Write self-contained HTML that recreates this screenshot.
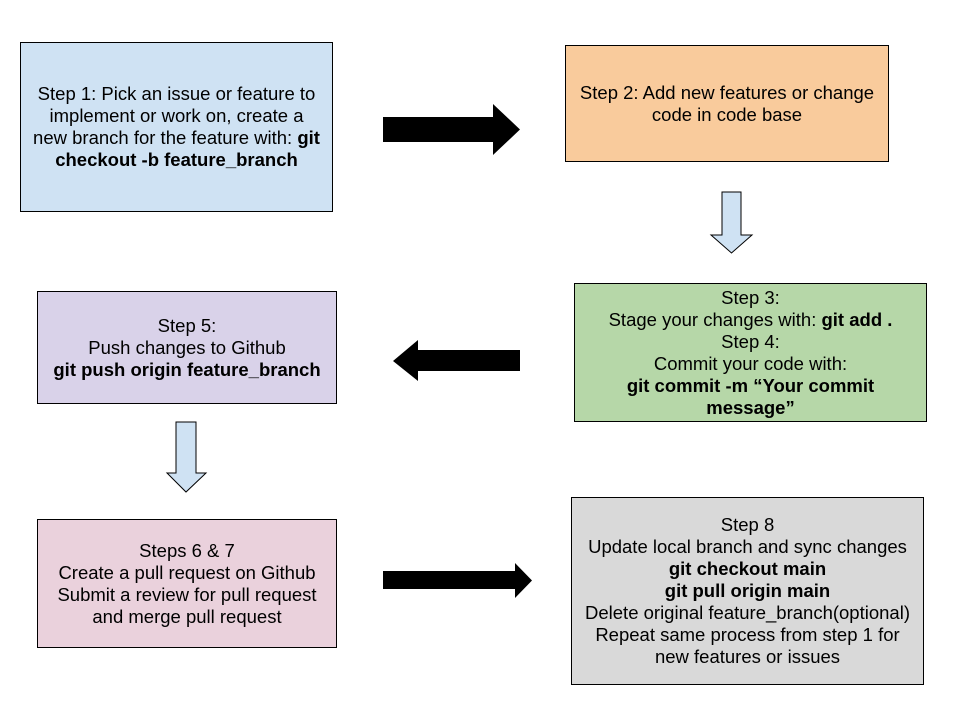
<!DOCTYPE html>
<html><head><meta charset="utf-8"><style>
body{margin:0;width:960px;height:720px;background:#fff;position:relative;overflow:hidden;font-family:"Liberation Sans",Arial,sans-serif;}
.b{position:absolute;box-sizing:border-box;border:1px solid #000;display:flex;align-items:center;justify-content:center;text-align:center;font-size:18.5px;line-height:22px;color:#000;}
.b>div{width:100%}
b{font-weight:bold}
svg{position:absolute;left:0;top:0}
</style></head><body>
<svg width="960" height="720">
<polygon points="383,117 493,117 493,104 520,129.5 493,155 493,142 383,142" fill="#000"/>
<polygon points="722,192 741,192 741,235 752,235 731.5,253 711,235 722,235" fill="#cfe2f3" stroke="#000" stroke-width="1"/>
<polygon points="520,350 418,350 418,340 393,361 418,381 418,371 520,371" fill="#000"/>
<polygon points="176,422 196,422 196,473 206,473 186,492 167,473 176,473" fill="#cfe2f3" stroke="#000" stroke-width="1"/>
<polygon points="383,571 515,571 515,563 532,580.5 515,598 515,589 383,589" fill="#000"/>
</svg>
<div class="b" style="left:20px;top:42px;width:313px;height:170px;background:#cfe2f3;white-space:nowrap;"><div>Step 1: Pick an issue or feature to<br>implement or work on, create a<br>new branch for the feature with: <b>git</b><br><b>checkout -b feature_branch</b></div></div>
<div class="b" style="left:565px;top:45px;width:324px;height:117px;background:#f9cb9c;padding:0 8px;"><div>Step 2: Add new features or change code in code base</div></div>
<div class="b" style="left:574px;top:283px;width:353px;height:139px;background:#b6d7a8;padding:0 20px;"><div>Step 3:<br>Stage your changes with: <b>git add .</b><br>Step 4:<br>Commit your code with:<br><b>git commit -m “Your commit message”</b></div></div>
<div class="b" style="left:37px;top:291px;width:300px;height:113px;background:#d9d2e9;"><div>Step 5:<br>Push changes to Github<br><b>git push origin feature_branch</b></div></div>
<div class="b" style="left:37px;top:519px;width:300px;height:129px;background:#ead1dc;"><div>Steps 6 &amp; 7<br>Create a pull request on Github<br>Submit a review for pull request<br>and merge pull request</div></div>
<div class="b" style="left:571px;top:497px;width:353px;height:188px;background:#d9d9d9;"><div>Step 8<br>Update local branch and sync changes<br><b>git checkout main</b><br><b>git pull origin main</b><br>Delete original feature_branch(optional)<br>Repeat same process from step 1 for<br>new features or issues</div></div>
</body></html>
